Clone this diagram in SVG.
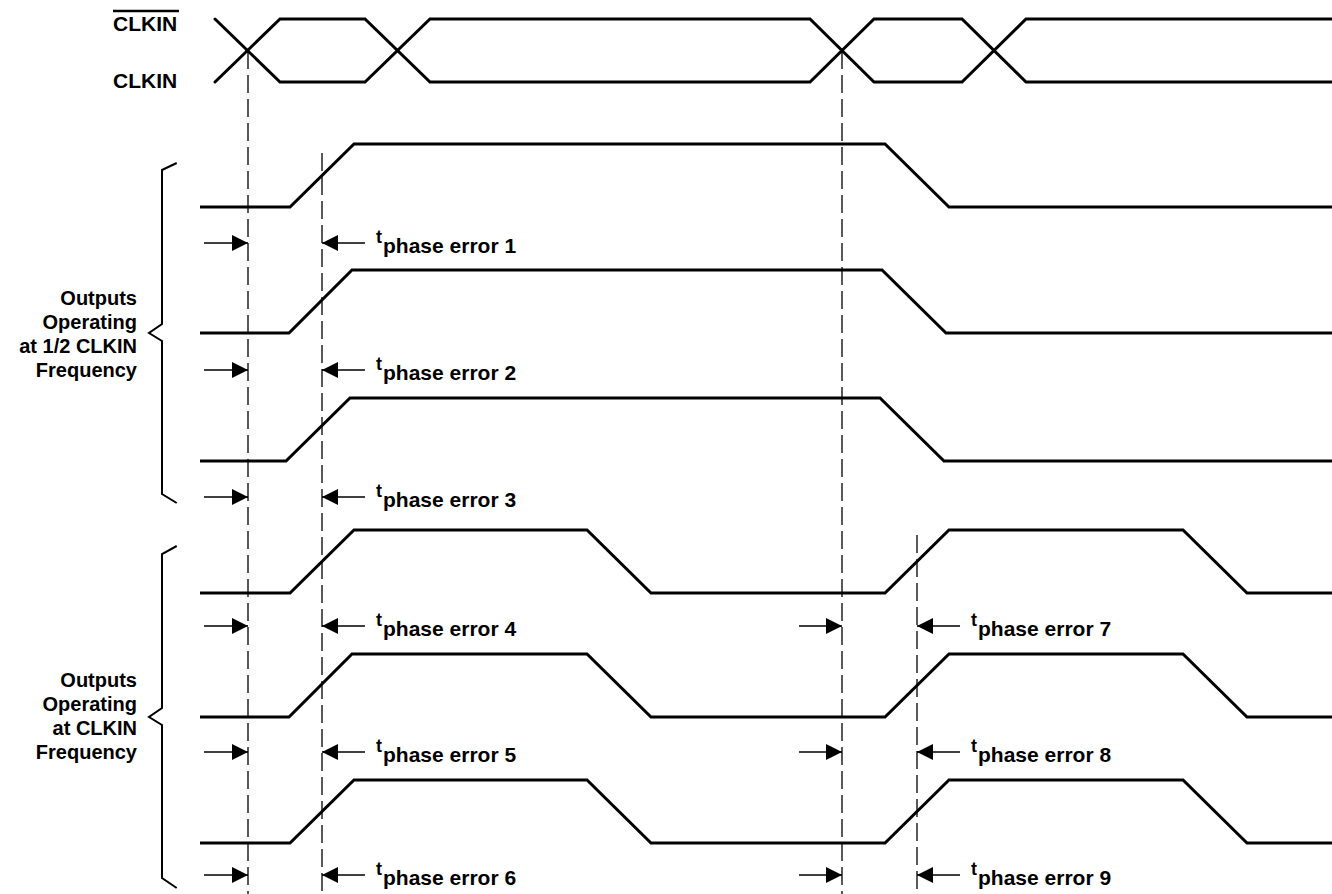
<svg xmlns="http://www.w3.org/2000/svg" width="1332" height="894" viewBox="0 0 1332 894">
<defs>
<style>
.t{font-family:"Liberation Sans",Arial,sans-serif;font-weight:bold;fill:#000}
.w{fill:none;stroke:#000;stroke-width:3;stroke-linejoin:miter}
.c{fill:none;stroke:#000;stroke-width:3;stroke-linecap:round}
.d{fill:none;stroke:#000;stroke-width:1.3;stroke-dasharray:18 6}
.a{fill:none;stroke:#000;stroke-width:1.5}
.b{fill:none;stroke:#000;stroke-width:2}
.sup{font-size:18px}
</style>
<marker id="ah" viewBox="0 0 10 10" refX="10" refY="5" markerWidth="16" markerHeight="16" markerUnits="userSpaceOnUse" orient="auto">
<path d="M0,0 L10,5 L0,10 z" fill="#000"/>
</marker>
</defs>
<rect width="1332" height="894" fill="#fff"/>

<g id="clkin-labels">
<text class="t" x="113" y="31" font-size="21">CLKIN</text>
<line x1="113" y1="11" x2="179" y2="11" stroke="#000" stroke-width="2.5"/>
<text class="t" x="113" y="88" font-size="21">CLKIN</text>
</g>

<g id="clkin-signals">
<path class="c" d="M215,19 L280,82 L365,82 L430,19 L810,19 L874,82 L962,82 L1026,19 L1332,19"/>
<path class="c" d="M215,82 L280,19 L365,19 L430,82 L810,82 L874,19 L962,19 L1026,82 L1332,82"/>
</g>

<g id="group-half">
<path class="b" d="M176.7,163 L162,170 L162,324 L149,333 L162,341 L162,494 L176.7,503"/>
<text class="t" font-size="20" text-anchor="end" x="137" y="305">Outputs</text>
<text class="t" font-size="20" text-anchor="end" x="137" y="329">Operating</text>
<text class="t" font-size="20" text-anchor="end" x="137" y="353">at 1/2 CLKIN</text>
<text class="t" font-size="20" text-anchor="end" x="137" y="377">Frequency</text>
</g>

<g id="group-full">
<path class="b" d="M176.7,546 L162,554 L162,708 L149,717 L162,725 L162,878 L176.7,888"/>
<text class="t" font-size="20" text-anchor="end" x="137" y="687">Outputs</text>
<text class="t" font-size="20" text-anchor="end" x="137" y="711">Operating</text>
<text class="t" font-size="20" text-anchor="end" x="137" y="735">at CLKIN</text>
<text class="t" font-size="20" text-anchor="end" x="137" y="759">Frequency</text>
</g>

<g id="wave1"><path class="w" d="M200,207 L290,207 L354,144 L885,144 L949,207 L1332,207"/></g>
<g id="wave2"><path class="w" d="M200,333 L289,333 L352,270 L882,270 L946,333 L1332,333"/></g>
<g id="wave3"><path class="w" d="M200,461 L286,461 L350,398 L880,398 L944,461 L1332,461"/></g>
<g id="wave4"><path class="w" d="M200,593 L290,593 L354,530 L587,530 L651,593 L885,593 L949,530 L1183,530 L1247,593 L1332,593"/></g>
<g id="wave5"><path class="w" d="M200,717 L289,717 L352,654 L587,654 L651,717 L885,717 L949,654 L1183,654 L1247,717 L1332,717"/></g>
<g id="wave6"><path class="w" d="M200,843 L290,843 L354,780 L587,780 L651,843 L885,843 L949,780 L1183,780 L1247,843 L1332,843"/></g>

<g id="connectors">
<line class="d" x1="248" y1="51" x2="248" y2="894"/>
<line class="d" x1="322" y1="153" x2="322" y2="894"/>
<line class="d" x1="842" y1="51" x2="842" y2="894"/>
<line class="d" x1="917" y1="535" x2="917" y2="894"/>

<line class="a" x1="204" y1="243" x2="248" y2="243" marker-end="url(#ah)"/>
<line class="a" x1="365" y1="243" x2="322" y2="243" marker-end="url(#ah)"/>
<line class="a" x1="204" y1="370" x2="248" y2="370" marker-end="url(#ah)"/>
<line class="a" x1="365" y1="370" x2="322" y2="370" marker-end="url(#ah)"/>
<line class="a" x1="204" y1="497" x2="248" y2="497" marker-end="url(#ah)"/>
<line class="a" x1="365" y1="497" x2="322" y2="497" marker-end="url(#ah)"/>
<line class="a" x1="204" y1="626" x2="248" y2="626" marker-end="url(#ah)"/>
<line class="a" x1="365" y1="626" x2="322" y2="626" marker-end="url(#ah)"/>
<line class="a" x1="204" y1="752" x2="248" y2="752" marker-end="url(#ah)"/>
<line class="a" x1="365" y1="752" x2="322" y2="752" marker-end="url(#ah)"/>
<line class="a" x1="204" y1="875" x2="248" y2="875" marker-end="url(#ah)"/>
<line class="a" x1="365" y1="875" x2="322" y2="875" marker-end="url(#ah)"/>

<line class="a" x1="799" y1="626" x2="842" y2="626" marker-end="url(#ah)"/>
<line class="a" x1="960" y1="626" x2="917" y2="626" marker-end="url(#ah)"/>
<line class="a" x1="799" y1="752" x2="842" y2="752" marker-end="url(#ah)"/>
<line class="a" x1="960" y1="752" x2="917" y2="752" marker-end="url(#ah)"/>
<line class="a" x1="799" y1="875" x2="842" y2="875" marker-end="url(#ah)"/>
<line class="a" x1="960" y1="875" x2="917" y2="875" marker-end="url(#ah)"/>
</g>

<g id="phase-labels">
<text class="t" x="376" y="253" font-size="21"><tspan class="sup" dy="-10">t</tspan><tspan dx="1" dy="10">phase error 1</tspan></text>
<text class="t" x="376" y="380" font-size="21"><tspan class="sup" dy="-10">t</tspan><tspan dx="1" dy="10">phase error 2</tspan></text>
<text class="t" x="376" y="507" font-size="21"><tspan class="sup" dy="-10">t</tspan><tspan dx="1" dy="10">phase error 3</tspan></text>
<text class="t" x="376" y="636" font-size="21"><tspan class="sup" dy="-10">t</tspan><tspan dx="1" dy="10">phase error 4</tspan></text>
<text class="t" x="376" y="762" font-size="21"><tspan class="sup" dy="-10">t</tspan><tspan dx="1" dy="10">phase error 5</tspan></text>
<text class="t" x="376" y="885" font-size="21"><tspan class="sup" dy="-10">t</tspan><tspan dx="1" dy="10">phase error 6</tspan></text>
<text class="t" x="971" y="636" font-size="21"><tspan class="sup" dy="-10">t</tspan><tspan dx="1" dy="10">phase error 7</tspan></text>
<text class="t" x="971" y="762" font-size="21"><tspan class="sup" dy="-10">t</tspan><tspan dx="1" dy="10">phase error 8</tspan></text>
<text class="t" x="971" y="885" font-size="21"><tspan class="sup" dy="-10">t</tspan><tspan dx="1" dy="10">phase error 9</tspan></text>
</g>
</svg>
